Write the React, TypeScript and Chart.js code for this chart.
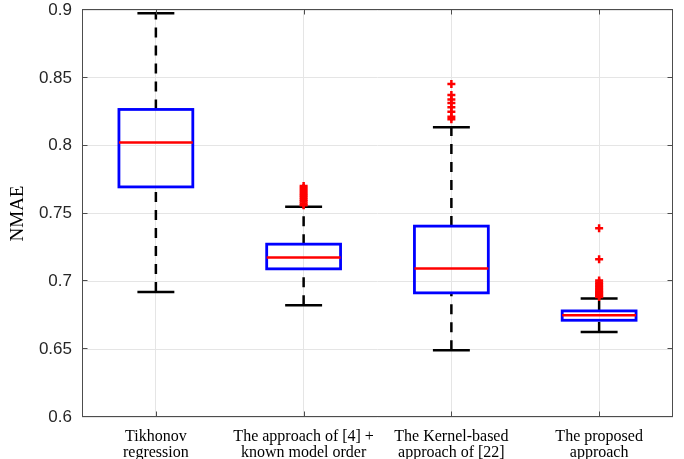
import React, { useEffect, useRef } from "react";
import { Chart, registerables } from "chart.js";

Chart.register(...registerables);

// ---- data ----
const categories: string[][] = [
  ["Tikhonov", "regression"],
  ["The approach of [4] +", "known model order"],
  ["The Kernel-based", "approach of [22]"],
  ["The proposed", "approach"],
];
const lowerWhisker = [0.6922, 0.6824, 0.6492, 0.6627];
const q1Values = [0.7696, 0.7092, 0.6915, 0.6713];
const medians = [0.8024, 0.7176, 0.7095, 0.675];
const q3Values = [0.8267, 0.7274, 0.7407, 0.6782];
const upperWhisker = [0.8976, 0.7549, 0.8135, 0.6873];
const outliers1: number[] = [];
const outliers2 = [0.7702, 0.7688, 0.7673, 0.7658, 0.7644, 0.763, 0.7616, 0.7602, 0.7588, 0.7574, 0.756];
const outliers3 = [0.8454, 0.8373, 0.8341, 0.8314, 0.8284, 0.825, 0.8213, 0.8194];
const outliers4 = [
  0.7392, 0.7163, 0.7006, 0.6992, 0.6978, 0.6966, 0.6954, 0.6943, 0.6933, 0.6924, 0.6915, 0.6906, 0.6898,
  0.689, 0.6884,
];
const yTicks = [0.6, 0.65, 0.7, 0.75, 0.8, 0.85, 0.9];
const yLabel = "NMAE";

const allOutliers = [outliers1, outliers2, outliers3, outliers4];

const boxPlugin = {
  id: "boxes",
  beforeDatasetsDraw(chart: any) {
    const { ctx, scales } = chart;
    const x = scales.x;
    const y = scales.y;
    ctx.save();
    for (let i = 0; i < categories.length; i++) {
      const v = i + 1;
      const cx = x.getPixelForValue(v);
      const hw = x.getPixelForValue(v + 0.25) - cx;
      const cw = x.getPixelForValue(v + 0.125) - cx;
      const yLo = y.getPixelForValue(lowerWhisker[i]);
      const yQ1 = y.getPixelForValue(q1Values[i]);
      const yMed = y.getPixelForValue(medians[i]);
      const yQ3 = y.getPixelForValue(q3Values[i]);
      const yHi = y.getPixelForValue(upperWhisker[i]);
      // whiskers
      ctx.strokeStyle = "#000000";
      ctx.lineWidth = 2.5;
      ctx.setLineDash([10, 8]);
      ctx.beginPath();
      ctx.moveTo(cx, yQ3);
      ctx.lineTo(cx, yHi);
      ctx.stroke();
      ctx.beginPath();
      ctx.moveTo(cx, yLo);
      ctx.lineTo(cx, yQ1);
      ctx.stroke();
      ctx.setLineDash([]);
      // caps
      ctx.beginPath();
      ctx.moveTo(cx - cw, yHi);
      ctx.lineTo(cx + cw, yHi);
      ctx.moveTo(cx - cw, yLo);
      ctx.lineTo(cx + cw, yLo);
      ctx.stroke();
      // box
      ctx.strokeStyle = "#0000ff";
      ctx.lineWidth = 2.8;
      ctx.strokeRect(cx - hw, yQ3, 2 * hw, yQ1 - yQ3);
      // median
      ctx.strokeStyle = "#ff0000";
      ctx.lineWidth = 2.5;
      ctx.beginPath();
      ctx.moveTo(cx - hw, yMed);
      ctx.lineTo(cx + hw, yMed);
      ctx.stroke();
    }
    ctx.restore();
  },
  afterDraw(chart: any) {
    const { ctx, chartArea, scales } = chart;
    const { left, right, top, bottom } = chartArea;
    ctx.save();
    ctx.strokeStyle = "#4d4d4d";
    ctx.lineWidth = 1;
    const L = Math.round(left) + 0.5;
    const R = Math.round(right) - 0.5;
    const T = Math.round(top) - 0.5;
    const B = Math.round(bottom) - 0.5;
    ctx.strokeRect(L, T, R - L, B - T);
    const tl = 5;
    ctx.beginPath();
    for (const t of yTicks) {
      const py = Math.round(scales.y.getPixelForValue(t)) - 0.5;
      ctx.moveTo(L, py);
      ctx.lineTo(L + tl, py);
      ctx.moveTo(R, py);
      ctx.lineTo(R - tl, py);
    }
    for (let i = 0; i < categories.length; i++) {
      const px = Math.round(scales.x.getPixelForValue(i + 1)) + 0.5;
      ctx.moveTo(px, B);
      ctx.lineTo(px, B - tl);
      ctx.moveTo(px, T);
      ctx.lineTo(px, T + tl);
    }
    ctx.stroke();
    ctx.restore();
  },
};

export default function App() {
  const canvasRef = useRef<HTMLCanvasElement>(null);
  useEffect(() => {
    if (!canvasRef.current) return;
    const chart = new Chart(canvasRef.current, {
      type: "scatter",
      data: {
        datasets: allOutliers.map((arr, i) => ({
          label: `outliers ${i + 1}`,
          data: arr.map((val) => ({ x: i + 1, y: val })),
          pointStyle: "cross",
          pointRadius: 4,
          pointBorderWidth: 2.5,
          borderColor: "#ff0000",
          backgroundColor: "#ff0000",
          showLine: false,
        })),
      },
      options: {
        responsive: false,
        animation: false,
        events: [],
        layout: { padding: { left: 0, right: 11, top: 10, bottom: 0 } },
        plugins: { legend: { display: false }, tooltip: { enabled: false } },
        scales: {
          x: {
            type: "linear",
            min: 0.5,
            max: 4.5,
            afterBuildTicks: (s: any) => {
              s.ticks = categories.map((_, i) => ({ value: i + 1 }));
            },
            ticks: {
              callback: (v: any) => categories[Math.round(Number(v)) - 1],
              font: { family: '"Liberation Serif", serif', size: 16, lineHeight: 1.0 },
              color: "#000000",
              padding: 12,
              maxRotation: 0,
              autoSkip: false,
            },
            grid: { color: "#e5e5e5", drawTicks: false, lineWidth: 1 },
            border: { display: false },
            afterFit: (s: any) => {
              s.height = 42;
              s.paddingLeft = 0;
              s.paddingRight = 0;
            },
          },
          y: {
            type: "linear",
            min: 0.6,
            max: 0.9,
            afterBuildTicks: (s: any) => {
              s.ticks = yTicks.map((v) => ({ value: v }));
            },
            ticks: {
              callback: (v: any) => String(Number(Number(v).toFixed(2))),
              font: { family: '"Liberation Sans", Arial, sans-serif', size: 17 },
              color: "#262626",
              padding: 10,
            },
            grid: { color: "#e5e5e5", drawTicks: false, lineWidth: 1 },
            border: { display: false },
            title: {
              display: true,
              text: yLabel,
              font: { family: '"Liberation Serif", serif', size: 19 },
              color: "#000000",
              padding: { top: 7, bottom: 0 },
            },
            afterFit: (s: any) => {
              s.width = 82;
              s.paddingTop = 0;
              s.paddingBottom = 0;
            },
          },
        },
      },
      plugins: [boxPlugin],
    });
    return () => chart.destroy();
  }, []);
  return (
    <div style={{ position: "fixed", left: 0, top: 0, width: 684, height: 459, background: "#fff" }}>
      <canvas ref={canvasRef} width={684} height={459} style={{ display: "block" }} />
    </div>
  );
}
